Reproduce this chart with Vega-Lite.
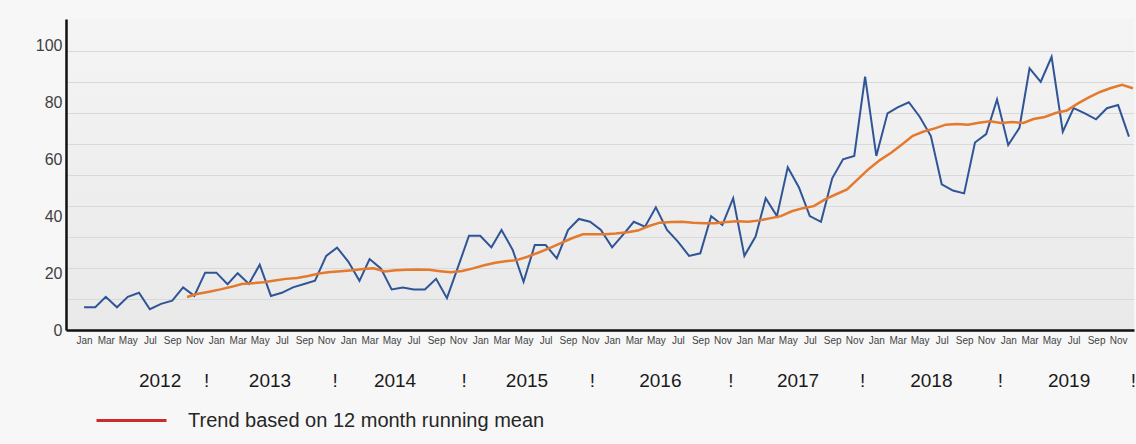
{
  "$schema": "https://vega.github.io/schema/vega-lite/v6.json",
  "width": 1068,
  "height": 311,
  "autosize": "none",
  "padding": {"left": 66, "top": 19, "right": 2, "bottom": 114},
  "background": "#f7f7f7",
  "config": {
    "view": {
      "stroke": null,
      "fill": {"gradient": "linear", "x1": 0, "y1": 0, "x2": 0, "y2": 1, "stops": [{"offset": 0, "color": "#f4f4f4"}, {"offset": 1, "color": "#e9e9e9"}]}
    },
    "font": "Liberation Sans"
  },
  "datasets": {
    "monthly": [
      {"date": "2012-01-01", "value": 8.0}, {"date": "2012-02-01", "value": 8.0}, {"date": "2012-03-01", "value": 11.7}, {"date": "2012-04-01", "value": 8.0},
      {"date": "2012-05-01", "value": 11.7}, {"date": "2012-06-01", "value": 13.1}, {"date": "2012-07-01", "value": 7.3}, {"date": "2012-08-01", "value": 9.2},
      {"date": "2012-09-01", "value": 10.3}, {"date": "2012-10-01", "value": 15.0}, {"date": "2012-11-01", "value": 12.0}, {"date": "2012-12-01", "value": 20.2},
      {"date": "2013-01-01", "value": 20.2}, {"date": "2013-02-01", "value": 16.1}, {"date": "2013-03-01", "value": 20.0}, {"date": "2013-04-01", "value": 16.2},
      {"date": "2013-05-01", "value": 23.0}, {"date": "2013-06-01", "value": 12.0}, {"date": "2013-07-01", "value": 13.1}, {"date": "2013-08-01", "value": 15.0},
      {"date": "2013-09-01", "value": 16.2}, {"date": "2013-10-01", "value": 17.4}, {"date": "2013-11-01", "value": 26.1}, {"date": "2013-12-01", "value": 29.0},
      {"date": "2014-01-01", "value": 24.1}, {"date": "2014-02-01", "value": 17.3}, {"date": "2014-03-01", "value": 25.0}, {"date": "2014-04-01", "value": 21.7},
      {"date": "2014-05-01", "value": 14.3}, {"date": "2014-06-01", "value": 15.0}, {"date": "2014-07-01", "value": 14.3}, {"date": "2014-08-01", "value": 14.3},
      {"date": "2014-09-01", "value": 18.0}, {"date": "2014-10-01", "value": 11.2}, {"date": "2014-11-01", "value": 22.3}, {"date": "2014-12-01", "value": 33.2},
      {"date": "2015-01-01", "value": 33.2}, {"date": "2015-02-01", "value": 29.1}, {"date": "2015-03-01", "value": 35.2}, {"date": "2015-04-01", "value": 28.2},
      {"date": "2015-05-01", "value": 17.0}, {"date": "2015-06-01", "value": 29.9}, {"date": "2015-07-01", "value": 29.9}, {"date": "2015-08-01", "value": 25.2},
      {"date": "2015-09-01", "value": 35.2}, {"date": "2015-10-01", "value": 39.1}, {"date": "2015-11-01", "value": 38.1}, {"date": "2015-12-01", "value": 35.2},
      {"date": "2016-01-01", "value": 29.1}, {"date": "2016-02-01", "value": 33.7}, {"date": "2016-03-01", "value": 38.1}, {"date": "2016-04-01", "value": 36.4},
      {"date": "2016-05-01", "value": 43.2}, {"date": "2016-06-01", "value": 35.2}, {"date": "2016-07-01", "value": 31.1}, {"date": "2016-08-01", "value": 26.1},
      {"date": "2016-09-01", "value": 27.0}, {"date": "2016-10-01", "value": 40.1}, {"date": "2016-11-01", "value": 37.0}, {"date": "2016-12-01", "value": 46.4},
      {"date": "2017-01-01", "value": 26.1}, {"date": "2017-02-01", "value": 32.9}, {"date": "2017-03-01", "value": 46.4}, {"date": "2017-04-01", "value": 40.1},
      {"date": "2017-05-01", "value": 57.3}, {"date": "2017-06-01", "value": 50.2}, {"date": "2017-07-01", "value": 40.1}, {"date": "2017-08-01", "value": 38.1},
      {"date": "2017-09-01", "value": 53.4}, {"date": "2017-10-01", "value": 60.1}, {"date": "2017-11-01", "value": 61.3}, {"date": "2017-12-01", "value": 89.2},
      {"date": "2018-01-01", "value": 61.3}, {"date": "2018-02-01", "value": 76.3}, {"date": "2018-03-01", "value": 78.4}, {"date": "2018-04-01", "value": 80.2},
      {"date": "2018-05-01", "value": 75.1}, {"date": "2018-06-01", "value": 68.3}, {"date": "2018-07-01", "value": 51.3}, {"date": "2018-08-01", "value": 49.1},
      {"date": "2018-09-01", "value": 48.1}, {"date": "2018-10-01", "value": 66.0}, {"date": "2018-11-01", "value": 69.0}, {"date": "2018-12-01", "value": 81.2},
      {"date": "2019-01-01", "value": 65.1}, {"date": "2019-02-01", "value": 71.2}, {"date": "2019-03-01", "value": 92.1}, {"date": "2019-04-01", "value": 87.4},
      {"date": "2019-05-01", "value": 96.2}, {"date": "2019-06-01", "value": 69.8}, {"date": "2019-07-01", "value": 78.1}, {"date": "2019-08-01", "value": 76.3},
      {"date": "2019-09-01", "value": 74.2}, {"date": "2019-10-01", "value": 78.1}, {"date": "2019-11-01", "value": 79.2}, {"date": "2019-12-01", "value": 68.1}
    ],
    "trend": [
      {"date": "2012-10-12", "mean": 11.6}, {"date": "2012-11-12", "mean": 12.8}, {"date": "2012-12-12", "mean": 13.5},
      {"date": "2013-01-12", "mean": 14.3}, {"date": "2013-02-12", "mean": 15.2}, {"date": "2013-03-12", "mean": 16.2}, {"date": "2013-04-12", "mean": 16.5},
      {"date": "2013-05-12", "mean": 16.8}, {"date": "2013-06-12", "mean": 17.4}, {"date": "2013-07-12", "mean": 18.0}, {"date": "2013-08-12", "mean": 18.3},
      {"date": "2013-09-12", "mean": 19.0}, {"date": "2013-10-12", "mean": 19.9}, {"date": "2013-11-12", "mean": 20.4}, {"date": "2013-12-12", "mean": 20.7},
      {"date": "2014-01-12", "mean": 21.0}, {"date": "2014-02-12", "mean": 21.5}, {"date": "2014-03-12", "mean": 21.7}, {"date": "2014-04-12", "mean": 20.6},
      {"date": "2014-05-12", "mean": 21.0}, {"date": "2014-06-12", "mean": 21.2}, {"date": "2014-07-12", "mean": 21.3}, {"date": "2014-08-12", "mean": 21.2},
      {"date": "2014-09-12", "mean": 20.7}, {"date": "2014-10-12", "mean": 20.3}, {"date": "2014-11-12", "mean": 20.8}, {"date": "2014-12-12", "mean": 21.7},
      {"date": "2015-01-12", "mean": 22.8}, {"date": "2015-02-12", "mean": 23.7}, {"date": "2015-03-12", "mean": 24.2}, {"date": "2015-04-12", "mean": 24.6},
      {"date": "2015-05-12", "mean": 25.8}, {"date": "2015-06-12", "mean": 27.3}, {"date": "2015-07-12", "mean": 28.8}, {"date": "2015-08-12", "mean": 30.6},
      {"date": "2015-09-12", "mean": 32.3}, {"date": "2015-10-12", "mean": 33.7}, {"date": "2015-11-12", "mean": 33.7}, {"date": "2015-12-12", "mean": 33.7},
      {"date": "2016-01-12", "mean": 34.0}, {"date": "2016-02-12", "mean": 34.4}, {"date": "2016-03-12", "mean": 35.0}, {"date": "2016-04-12", "mean": 36.6},
      {"date": "2016-05-12", "mean": 37.8}, {"date": "2016-06-12", "mean": 38.0}, {"date": "2016-07-12", "mean": 38.1}, {"date": "2016-08-12", "mean": 37.8},
      {"date": "2016-09-12", "mean": 37.6}, {"date": "2016-10-12", "mean": 37.6}, {"date": "2016-11-12", "mean": 38.0}, {"date": "2016-12-12", "mean": 38.3},
      {"date": "2017-01-12", "mean": 38.1}, {"date": "2017-02-12", "mean": 38.6}, {"date": "2017-03-12", "mean": 39.3}, {"date": "2017-04-12", "mean": 40.1},
      {"date": "2017-05-12", "mean": 41.8}, {"date": "2017-06-12", "mean": 42.9}, {"date": "2017-07-12", "mean": 43.6}, {"date": "2017-08-12", "mean": 46.0},
      {"date": "2017-09-12", "mean": 47.8}, {"date": "2017-10-12", "mean": 49.5}, {"date": "2017-11-12", "mean": 53.2}, {"date": "2017-12-12", "mean": 56.8},
      {"date": "2018-01-12", "mean": 59.9}, {"date": "2018-02-12", "mean": 62.5}, {"date": "2018-03-12", "mean": 65.2}, {"date": "2018-04-12", "mean": 68.4},
      {"date": "2018-05-12", "mean": 69.9}, {"date": "2018-06-12", "mean": 71.0}, {"date": "2018-07-12", "mean": 72.3}, {"date": "2018-08-12", "mean": 72.5},
      {"date": "2018-09-12", "mean": 72.3}, {"date": "2018-10-12", "mean": 73.0}, {"date": "2018-11-12", "mean": 73.5}, {"date": "2018-12-12", "mean": 72.9},
      {"date": "2019-01-12", "mean": 73.2}, {"date": "2019-02-12", "mean": 72.9}, {"date": "2019-03-12", "mean": 74.3}, {"date": "2019-04-12", "mean": 75.0},
      {"date": "2019-05-12", "mean": 76.4}, {"date": "2019-06-12", "mean": 77.3}, {"date": "2019-07-12", "mean": 79.7}, {"date": "2019-08-12", "mean": 81.9},
      {"date": "2019-09-12", "mean": 83.8}, {"date": "2019-10-12", "mean": 85.2}, {"date": "2019-11-12", "mean": 86.3}, {"date": "2019-12-12", "mean": 85.1}
    ]
  },
  "layer": [
    {
      "data": {"name": "monthly"},
      "mark": {"type": "line", "color": "#2f5597", "strokeWidth": 2, "strokeJoin": "miter"},
      "encoding": {
        "x": {
          "field": "date", "type": "temporal",
          "scale": {"type": "utc", "domain": [{"year": 2011, "month": 11, "date": 12, "utc": true}, {"year": 2019, "month": 12, "date": 15, "utc": true}]},
          "axis": {
            "title": null, "orient": "bottom", "grid": false, "ticks": false,
            "tickCount": {"interval": "month", "step": 2},
            "format": "%b", "labelOverlap": false, "labelFontSize": 10, "labelColor": "#444444",
            "labelPadding": 5, "domainColor": "#111111", "domainWidth": 2.5
          }
        },
        "y": {
          "field": "value", "type": "quantitative",
          "scale": {"domain": [0, 109.5], "nice": false, "zero": true},
          "axis": {
            "title": null, "grid": false, "ticks": false, "values": [0, 20, 40, 60, 80, 100],
            "labelFontSize": 16, "labelColor": "#404040", "labelPadding": 4,
            "domainColor": "#111111", "domainWidth": 2.5
          }
        }
      }
    },
    {
      "data": {"name": "trend"},
      "mark": {"type": "line", "strokeWidth": 1},
      "encoding": {
        "x": {
          "field": "date", "type": "temporal",
          "scale": {"type": "utc", "domain": [{"year": 2011, "month": 11, "date": 12, "utc": true}, {"year": 2019, "month": 12, "date": 15, "utc": true}]},
          "axis": null
        },
        "y": {
          "field": "mean", "type": "quantitative",
          "scale": {"domain": [0, 109.5], "nice": false, "zero": true},
          "axis": null
        },
        "color": {
          "datum": "Trend based on 12 month running mean",
          "type": "nominal",
          "scale": {"range": ["#cc2b2b"]},
          "legend": {
            "title": null, "orient": "none", "legendX": 29, "legendY": 365, "padding": 0,
            "symbolType": "stroke", "symbolSize": 4900, "symbolStrokeWidth": 3,
            "labelFontSize": 20, "labelColor": "#262626", "labelOffset": 20, "labelLimit": 600
          }
        }
      }
    },
    {
      "data": {"name": "trend"},
      "mark": {"type": "line", "strokeWidth": 2.5, "color": "#e47a2e"},
      "encoding": {
        "x": {
          "field": "date", "type": "temporal",
          "scale": {"type": "utc", "domain": [{"year": 2011, "month": 11, "date": 12, "utc": true}, {"year": 2019, "month": 12, "date": 15, "utc": true}]},
          "axis": {
            "title": null, "orient": "bottom", "offset": 38, "grid": false, "ticks": false, "domain": false,
            "values": [
              {"year": 2012, "month": 7, "date": 28, "utc": true}, {"year": 2012, "month": 12, "date": 4, "utc": true},
              {"year": 2013, "month": 5, "date": 28, "utc": true}, {"year": 2013, "month": 11, "date": 24, "utc": true},
              {"year": 2014, "month": 5, "date": 9, "utc": true}, {"year": 2014, "month": 11, "date": 16, "utc": true},
              {"year": 2015, "month": 5, "date": 9, "utc": true}, {"year": 2015, "month": 11, "date": 6, "utc": true},
              {"year": 2016, "month": 5, "date": 12, "utc": true}, {"year": 2016, "month": 11, "date": 23, "utc": true},
              {"year": 2017, "month": 5, "date": 28, "utc": true}, {"year": 2017, "month": 11, "date": 23, "utc": true},
              {"year": 2018, "month": 6, "date": 1, "utc": true}, {"year": 2018, "month": 12, "date": 9, "utc": true},
              {"year": 2019, "month": 6, "date": 17, "utc": true}, {"year": 2019, "month": 12, "date": 12, "utc": true}
            ],
            "labelExpr": "utcmonth(datum.value) >= 10 ? '!' : utcFormat(datum.value, '%Y')",
            "labelOverlap": false, "labelFontSize": 19, "labelColor": "#1a1a1a", "labelPadding": 3
          }
        },
        "y": {
          "field": "mean", "type": "quantitative",
          "scale": {"domain": [0, 109.5], "nice": false, "zero": true},
          "axis": {
            "title": null, "orient": "right", "grid": true, "labels": false, "ticks": false, "domain": false,
            "values": [10.92, 21.84, 32.76, 43.68, 54.6, 65.52, 76.44, 87.36, 98.28],
            "gridColor": "#d9d9d9", "gridWidth": 1
          }
        }
      }
    }
  ],
  "resolve": {"axis": {"x": "independent", "y": "independent"}}
}
